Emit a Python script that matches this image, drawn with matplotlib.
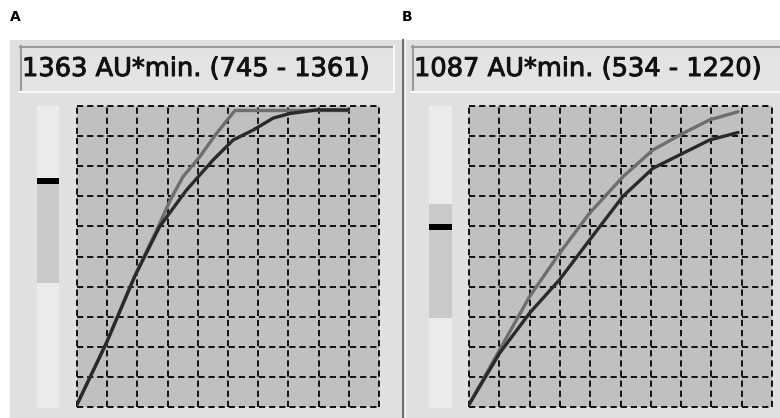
import matplotlib
matplotlib.use("Agg")
import matplotlib.pyplot as plt
import matplotlib.patheffects as pe
from matplotlib.patches import Rectangle

# panel texts
panel_labels = ["A", "B"]
box_texts = ["1363 AU*min. (745 - 1361)", "1087 AU*min. (534 - 1220)"]

# curves, in grid units (10 x 10 grid)
a_dark_x = [0, 0.97, 1.91, 2.74, 3.62, 4.5, 5.17, 5.83, 6.5, 7.05, 7.93, 8.98]
a_dark_y = [0.08, 2.12, 4.34, 6.0, 7.2, 8.2, 8.87, 9.2, 9.6, 9.75, 9.87, 9.87]
a_gray_x = [0, 0.97, 1.91, 2.74, 3.1, 3.51, 4.07, 4.62, 5.23, 7.0, 8.98]
a_gray_y = [0.08, 2.12, 4.34, 6.1, 6.9, 7.65, 8.32, 9.09, 9.85, 9.85, 9.85]

b_dark_x = [0, 1.01, 2.0, 2.99, 3.98, 5.08, 6.07, 7.06, 7.94, 8.88]
b_dark_y = [0.08, 1.79, 3.12, 4.23, 5.55, 7.0, 7.93, 8.43, 8.87, 9.12]
b_gray_x = [0, 1.01, 2.0, 2.99, 3.98, 5.08, 6.07, 7.06, 7.94, 8.88]
b_gray_y = [0.08, 1.9, 3.67, 5.11, 6.44, 7.65, 8.54, 9.09, 9.54, 9.81]

# slider: light bar, darker band (top, bottom) and marker top, in pixels
sliders = [
    dict(x=37, w=22, band=(178, 283), mark=178),
    dict(x=429, w=23, band=(204, 318), mark=224),
]

W, H = 780, 418
fig = plt.figure(figsize=(W / 100, H / 100), dpi=100)
fig.patch.set_facecolor("white")

# background axes in pixel coordinates
bg = fig.add_axes([0, 0, 1, 1])
bg.set_xlim(0, W)
bg.set_ylim(H, 0)
bg.axis("off")

bg.add_patch(Rectangle((10, 40), W - 10, H - 40, color="#e0e0e0", lw=0))
bg.plot([403, 403], [40, H], color="#707070", lw=1.5)
bg.plot([405, 405], [40, H], color="#f4f4f4", lw=1)

boxes = [(20, 374), (412, 380)]
for (bx, bw), txt in zip(boxes, box_texts):
    bg.add_patch(Rectangle((bx, 46), bw, 46, facecolor="#e3e3e3", lw=0))
    bg.plot([bx, bx + bw], [46.5, 46.5], color="#9a9a9a", lw=1.5)
    bg.plot([bx + 0.5, bx + 0.5], [46, 92], color="#9a9a9a", lw=1.5)
    bg.plot([bx, bx + bw], [92, 92], color="#f8f8f8", lw=1.5)
    bg.plot([bx + bw, bx + bw], [46, 92], color="#f8f8f8", lw=1.5)
    bg.text(bx + 2, 69, txt, fontsize=18.5, family="DejaVu Sans",
            va="center", ha="left", color="#111111",
            path_effects=[pe.withStroke(linewidth=0.7, foreground="#111111")])

for lab, lx in zip(panel_labels, [10, 402]):
    bg.text(lx, 17, lab, fontsize=10, fontweight="bold", va="center", ha="left")

for s in sliders:
    bg.add_patch(Rectangle((s["x"], 106), s["w"], 302, color="#ebebeb", lw=0))
    b0, b1 = s["band"]
    bg.add_patch(Rectangle((s["x"], b0), s["w"], b1 - b0, color="#c9c9c9", lw=0))
    bg.add_patch(Rectangle((s["x"], s["mark"]), s["w"], 6, color="#000000", lw=0))

# plot panels
rects = [(77, 379), (469, 772)]
curves = [(a_gray_x, a_gray_y, a_dark_x, a_dark_y),
          (b_gray_x, b_gray_y, b_dark_x, b_dark_y)]
for (x0, x1), (gx, gy, dx, dy) in zip(rects, curves):
    ax = fig.add_axes([x0 / W, 1 - 407 / H, (x1 - x0) / W, 301 / H])
    ax.set_facecolor("#c0c0c0")
    ax.set_xlim(0, 10)
    ax.set_ylim(0, 10)
    for sp in ax.spines.values():
        sp.set_visible(False)
    ax.set_xticks([])
    ax.set_yticks([])
    for k in range(11):
        ax.axvline(k, color="#111111", lw=1.4, linestyle=(0, (3.2, 2.0)), clip_on=False)
        ax.axhline(k, color="#111111", lw=1.4, linestyle=(0, (3.2, 2.0)), clip_on=False)
    ax.plot(gx, gy, color="#6e6e6e", lw=2.4, solid_capstyle="round")
    ax.plot(dx, dy, color="#2a2a2a", lw=2.4, solid_capstyle="round")

fig.savefig("out.png", dpi=100)
